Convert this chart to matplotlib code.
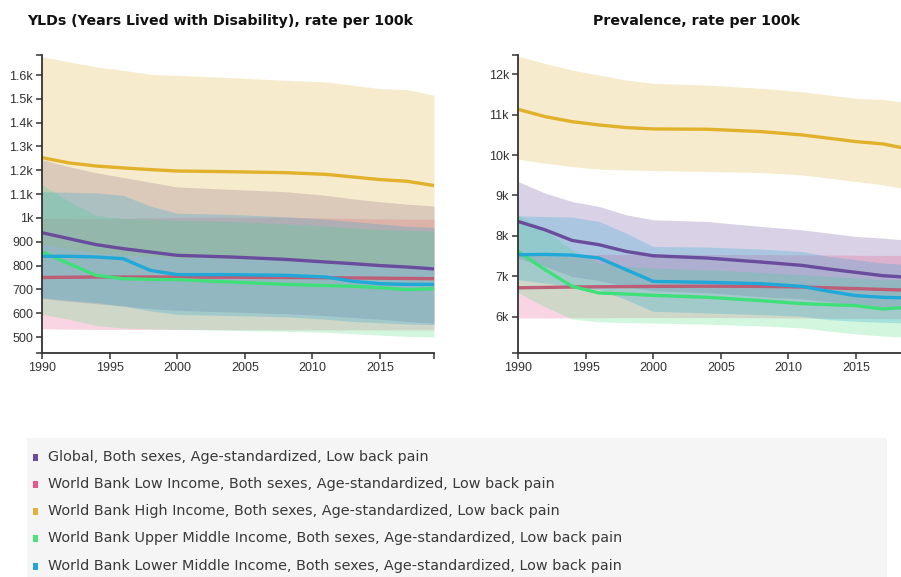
import numpy as np
import matplotlib.pyplot as plt
from matplotlib.patches import Rectangle

years = [1990, 1992, 1994, 1996, 1998, 2000, 2004, 2008, 2011, 2013, 2015, 2017, 2019]

names = ["Global, Both sexes, Age-standardized, Low back pain",
         "World Bank Low Income, Both sexes, Age-standardized, Low back pain",
         "World Bank High Income, Both sexes, Age-standardized, Low back pain",
         "World Bank Upper Middle Income, Both sexes, Age-standardized, Low back pain",
         "World Bank Lower Middle Income, Both sexes, Age-standardized, Low back pain"]
colors = ["#6a4c9c", "#e8568c", "#e2b33a", "#4ee07c", "#23a6d6"]
line_colors = ["#6a4c9c", "#bd5d76", "#e2b12c", "#3fe07a", "#1fa8d8"]

# YLDs, rate per 100k  (mean, upper, lower)
yld_global = [938, 913, 888, 871, 857, 843, 836, 826, 815, 808, 800, 794, 786]
yld_global_hi = [1245, 1215, 1190, 1170, 1150, 1130, 1120, 1110, 1095, 1080, 1068, 1058, 1050]
yld_global_lo = [662, 650, 640, 630, 620, 612, 605, 598, 590, 582, 575, 565, 558]

yld_low = [750, 751, 752, 752, 752, 752, 751, 750, 749, 748, 747, 746, 745]
yld_low_hi = [1000, 998, 998, 998, 1000, 1002, 1003, 1003, 1000, 998, 996, 995, 995]
yld_low_lo = [535, 533, 532, 532, 532, 532, 531, 530, 530, 530, 530, 530, 530]

yld_high = [1253, 1231, 1218, 1210, 1203, 1197, 1194, 1190, 1183, 1172, 1161, 1154, 1136]
yld_high_hi = [1678, 1655, 1634, 1620, 1603, 1599, 1589, 1578, 1571, 1557, 1543, 1539, 1515]
yld_high_lo = [890, 870, 855, 845, 840, 835, 830, 825, 820, 815, 810, 805, 800]

yld_um = [857, 808, 759, 745, 742, 741, 731, 721, 716, 713, 707, 699, 703]
yld_um_hi = [1140, 1070, 1010, 998, 995, 990, 985, 975, 965, 958, 952, 948, 945]
yld_um_lo = [595, 575, 548, 538, 535, 532, 528, 524, 520, 514, 508, 503, 500]

yld_lm = [839, 839, 836, 829, 780, 762, 762, 759, 752, 734, 724, 721, 721]
yld_lm_hi = [1110, 1108, 1105, 1095, 1050, 1020, 1015, 1005, 995, 985, 975, 965, 960]
yld_lm_lo = [665, 655, 645, 630, 610, 595, 590, 585, 575, 565, 560, 555, 552]

# Prevalence, rate per 100k
prev_global = [8359, 8153, 7890, 7784, 7619, 7512, 7455, 7356, 7274, 7184, 7101, 7019, 6978]
prev_global_hi = [9345, 9058, 8852, 8729, 8523, 8400, 8359, 8235, 8153, 8071, 7989, 7948, 7890]
prev_global_lo = [7450, 7250, 7000, 6900, 6750, 6650, 6600, 6500, 6450, 6380, 6300, 6230, 6200]

prev_low = [6720, 6730, 6740, 6745, 6750, 6755, 6760, 6755, 6740, 6720, 6700, 6680, 6660]
prev_low_hi = [7540, 7540, 7545, 7545, 7545, 7545, 7545, 7540, 7535, 7530, 7525, 7520, 7520]
prev_low_lo = [5975, 5975, 5980, 5980, 5985, 5985, 5985, 5980, 5975, 5970, 5965, 5960, 5955]

prev_high = [11129, 10948, 10824, 10742, 10677, 10644, 10636, 10578, 10496, 10414, 10331, 10274, 10142]
prev_high_hi = [12444, 12263, 12099, 11975, 11852, 11770, 11729, 11647, 11565, 11482, 11400, 11375, 11277]
prev_high_lo = [9896, 9797, 9715, 9649, 9633, 9616, 9592, 9567, 9509, 9427, 9345, 9263, 9140]

prev_um = [7619, 7167, 6756, 6592, 6567, 6534, 6485, 6403, 6329, 6304, 6279, 6197, 6240]
prev_um_hi = [8523, 8153, 7660, 7331, 7249, 7208, 7167, 7101, 7044, 7003, 6962, 6921, 6921]
prev_um_lo = [6600, 6250, 5950, 5880, 5860, 5850, 5820, 5780, 5730, 5650, 5580, 5530, 5500]

prev_lm = [7537, 7545, 7529, 7455, 7167, 6879, 6855, 6822, 6756, 6633, 6526, 6485, 6468]
prev_lm_hi = [8498, 8482, 8466, 8359, 8071, 7742, 7726, 7677, 7619, 7496, 7414, 7332, 7290]
prev_lm_lo = [6920, 6838, 6756, 6674, 6427, 6140, 6099, 6058, 6016, 5934, 5893, 5868, 5852]

yld_ticks = [500, 600, 700, 800, 900, 1000, 1100, 1200, 1300, 1400, 1500, 1600]
yld_labels = ["500", "600", "700", "800", "900", "1k", "1.1k", "1.2k", "1.3k", "1.4k", "1.5k", "1.6k"]
prev_ticks = [6000, 7000, 8000, 9000, 10000, 11000, 12000]
prev_labels = ["6k", "7k", "8k", "9k", "10k", "11k", "12k"]
x_ticks = [1990, 1995, 2000, 2005, 2010, 2015]

yld = [(yld_global, yld_global_lo, yld_global_hi),
       (yld_low, yld_low_lo, yld_low_hi),
       (yld_high, yld_high_lo, yld_high_hi),
       (yld_um, yld_um_lo, yld_um_hi),
       (yld_lm, yld_lm_lo, yld_lm_hi)]
prev = [(prev_global, prev_global_lo, prev_global_hi),
        (prev_low, prev_low_lo, prev_low_hi),
        (prev_high, prev_high_lo, prev_high_hi),
        (prev_um, prev_um_lo, prev_um_hi),
        (prev_lm, prev_lm_lo, prev_lm_hi)]

W, H = 901, 577
fig = plt.figure(figsize=(W / 100, H / 100), dpi=100)


def draw(ax, data, ylim, ticks, labels):
    for (m, lo, hi), c in zip(data, colors):
        ax.fill_between(years, lo, hi, color=c, alpha=0.25, lw=0)
    for (m, lo, hi), c in zip(data, line_colors):
        ax.plot(years, m, color=c, lw=2.4, solid_capstyle="round")
    ax.set_xlim(1990, 2019)
    ax.set_ylim(*ylim)
    ax.set_xticks(x_ticks)
    ax.set_xticklabels([str(t) for t in x_ticks])
    ax.set_yticks(ticks)
    ax.set_yticklabels(labels)
    ax.set_xticks([2019], minor=True)
    ax.set_yticks(list(ylim), minor=True)
    ax.tick_params(which="both", length=4.5, width=1.1, color="#333333",
                   labelsize=9, labelcolor="#333333", pad=2)
    for lab in ax.get_xticklabels() + ax.get_yticklabels():
        lab.set_family("Liberation Sans")
    for s in ["top", "right"]:
        ax.spines[s].set_visible(False)
    for s in ["left", "bottom"]:
        ax.spines[s].set_color("#333333")
        ax.spines[s].set_linewidth(1.3)
    ax.patch.set_alpha(0)


ax1 = fig.add_axes([42 / W, 1 - 353 / H, 392 / W, 298 / H])
draw(ax1, yld, (433, 1684), yld_ticks, yld_labels)
ax2 = fig.add_axes([518 / W, 1 - 353 / H, 392 / W, 298 / H])
draw(ax2, prev, (5110, 12470), prev_ticks, prev_labels)

fig.text(220 / W, 1 - 21 / H, "YLDs (Years Lived with Disability), rate per 100k",
         ha="center", va="center", fontsize=10.2, fontweight="bold", color="#111111")
fig.text(696 / W, 1 - 21 / H, "Prevalence, rate per 100k",
         ha="center", va="center", fontsize=10.2, fontweight="bold", color="#111111")

# legend box
fig.patches.append(Rectangle((27 / W, 0), 860 / W, 139 / H, transform=fig.transFigure,
                             facecolor="#f5f5f5", edgecolor="none", zorder=0))
row_y = [457, 484, 511, 538, 566]
for name, c, ry in zip(names, colors, row_y):
    fig.patches.append(Rectangle((33 / W, 1 - (ry + 3.5) / H), 5 / W, 7 / H,
                                 transform=fig.transFigure, facecolor=c,
                                 edgecolor="none", zorder=1))
    fig.text(48 / W, 1 - ry / H, name, ha="left", va="center",
             fontsize=10.4, color="#3a3a3a")

fig.savefig("out.png", dpi=100)
